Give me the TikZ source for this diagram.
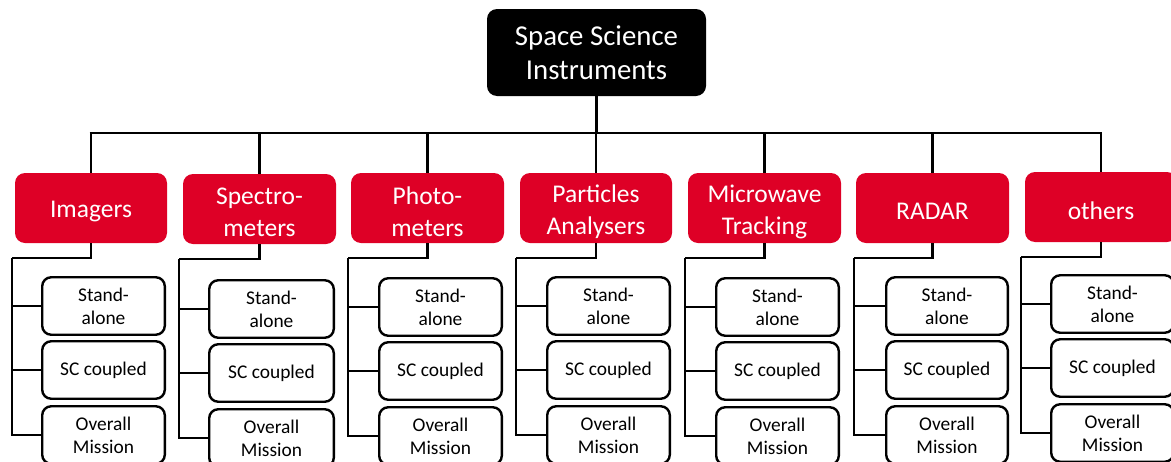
\documentclass[tikz,border=0pt]{standalone}
\usepackage{fontspec}
\setmainfont{Carlito}
\definecolor{esared}{RGB}{222,0,38}
\begin{document}
\begin{tikzpicture}[x=1pt,y=-1pt,
  conn/.style={line width=2.6pt},
  topbox/.style={fill=black,text=white,rounded corners=10pt,minimum width=219pt,minimum height=87pt,align=center,font=\fontsize{28.8}{34.5}\selectfont},
  catbox/.style={fill=esared,rounded corners=10pt,minimum height=70pt,inner sep=0pt},
  cattext/.style={text=white,align=center,inner sep=0pt,font=\fontsize{25.5}{32}\selectfont},
  subbox/.style={draw=black,fill=white,line width=2.4pt,rounded corners=9pt,minimum height=57.5pt,align=center,inner sep=0pt,font=\fontsize{19.4}{23}\selectfont}]
\useasboundingbox (0,0) rectangle (1171,461);
\node[topbox] (top) at (596.5,52.5) {Space Science\\Instruments};
\coordinate (bus) at (0,133);
\foreach \i/\rl/\rr/\rt/\lx/\bl/\br/\st/\lab in {
  1/15/167/173/12/41/166/276/{Imagers},
  2/183/336/174/179/208/335/279/{Spectro-\\meters},
  3/351/504/173/348/378/503/277/{Photo-\\meters},
  4/520/672/173/516/546/671/276/{Particles\\Analysers},
  5/688/841/173/685/715/840/277/{Microwave\\Tracking},
  6/856/1009/173/854/885/1009/276/{RADAR},
  7/1025/1177/172/1021/1050/1175/274/{others}}{
  \node[catbox,minimum width={(\rr-\rl)*1pt}] (r\i) at ({(\rl+\rr)/2},{\rt+35}) {};
  \node[cattext] (t\i) at ([yshift=-3.5pt]r\i.center) {\lab};
  \node[subbox,minimum width={(\br-\bl-2.4)*1pt}] (s\i) at ({(\bl+\br)/2},{\st+30}) {Stand-\\alone};
  \node[subbox,minimum width={(\br-\bl-2.4)*1pt}] (c\i) at ({(\bl+\br)/2},{\st+94}) {SC coupled};
  \node[subbox,minimum width={(\br-\bl-2.4)*1pt}] (o\i) at ({(\bl+\br)/2},{\st+159}) {Overall\\Mission};
  \coordinate (k\i) at (\lx,{\rt+85});
  \draw[conn] (r\i.north) -- (r\i.north |- bus);
  \draw[conn] (r\i.south) |- (k\i);
  \draw[conn] (k\i) |- (s\i.west);
  \draw[conn] (k\i) |- (c\i.west);
  \draw[conn] (k\i) |- (o\i.west);
}
\draw[conn] (top.south) -- (top.south |- bus);
\draw[conn] ([xshift=-1.3pt]r1.north |- bus) -- ([xshift=1.3pt]r7.north |- bus);
\end{tikzpicture}
\end{document}
